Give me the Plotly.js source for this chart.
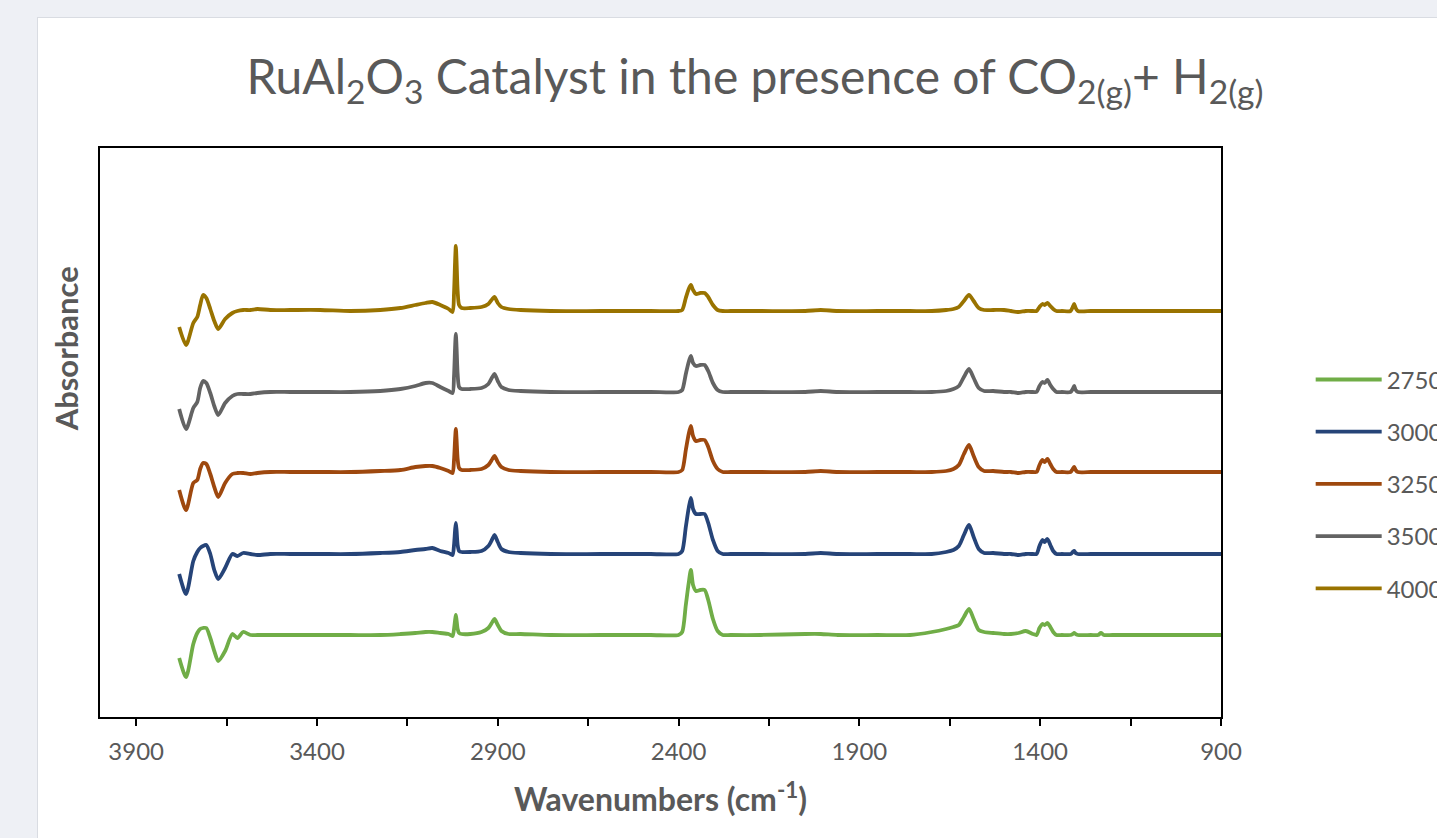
<!DOCTYPE html>
<html>
<head>
<meta charset="utf-8">
<script src="https://cdn.plot.ly/plotly-3.0.1.min.js"></script>
<style>
  html, body { margin: 0; padding: 0; background: #eef0f5; overflow: hidden; width: 1437px; height: 838px; }
  #card { position: absolute; left: 37px; top: 17px; width: 1500px; height: 840px; background: #ffffff; border: 1px solid #d9dce2; box-sizing: border-box; }
  #plot { position: absolute; left: 0; top: 0; width: 1500px; height: 821px; }
</style>
</head>
<body>
<div id="card"><div id="plot"></div></div>
<script>
// Wavenumbers (cm-1), shared by all spectra
const wavenumbers = [3781, 3762, 3742, 3731, 3723, 3715, 3706, 3695, 3684, 3673,
  3654, 3634, 3620, 3604, 3584, 3565, 3529, 3474, 3391, 3308,
  3225, 3169, 3128, 3100, 3081, 3059, 3036, 3025, 3021, 3018,
  3016, 3014, 3011, 3007, 3000, 2976, 2945, 2926, 2915, 2909,
  2900, 2890, 2870, 2837, 2754, 2616, 2477, 2400, 2390, 2380,
  2372, 2366, 2360, 2352, 2340, 2328, 2318, 2305, 2292, 2278,
  2256, 2173, 2050, 2007, 1960, 1850, 1760, 1700, 1660, 1640,
  1625, 1611, 1597, 1584, 1570, 1555, 1530, 1500, 1481, 1460,
  1440, 1420, 1410, 1402, 1394, 1388, 1380, 1372, 1364, 1355,
  1340, 1316, 1310, 1306, 1302, 1296, 1260, 1240, 1232, 1224,
  1200, 1100, 1000, 900];

// Series names (legend labels)
const seriesNames = ["2750", "3000", "3250", "3500", "4000"];
const seriesColors = ["#70AD47", "#264478", "#9E480E", "#636363", "#997300"];

// Absorbance (stacked, arbitrary units)
const abs2750 = [-23, -42, -9, 2, 6, 7, 7, -3, -16, -26,
  -16, 1, -3, 3, 0, 0, 0, 0, 0, 0,
  0, 1, 2, 3, 3, 2, 1, -1, 6, 15,
  20, 15, 6, 2, 1, 1, 3, 7, 13, 16,
  10, 4, 1, 1, 0, 0, 0, 0, 3, 30,
  52, 65, 50, 44, 45, 45, 35, 16, 4, 0,
  0, 0, 1, 1, 0, 0, 0, 3, 6, 8,
  10, 18, 26, 16, 5, 3, 2, 1, 1, 2,
  4, 1, 0, 7, 11, 10, 12, 8, 3, 0,
  0, 0, 1, 2, 1, 0, 0, 0, 2, 0,
  0, 0, 0, 0];

const abs3000 = [61, 41, 74, 83, 87, 89, 90, 81, 65, 56,
  67, 81, 79, 82, 81, 80, 81, 81, 81, 81,
  82, 83, 85, 86, 87, 84, 82, 80, 90, 105,
  112, 105, 90, 84, 83, 83, 84, 89, 96, 100,
  93, 86, 83, 82, 81, 81, 81, 81, 84, 108,
  127, 137, 126, 121, 121, 121, 112, 95, 84, 81,
  81, 81, 81, 82, 81, 81, 81, 81, 83, 85,
  89, 100, 110, 98, 86, 82, 82, 81, 81, 80,
  81, 81, 81, 89, 95, 93, 96, 90, 84, 81,
  81, 81, 83, 84, 82, 81, 81, 81, 81, 81,
  81, 81, 81, 81];

const abs3250 = [145, 125, 152, 155, 166, 172, 171, 161, 148, 138,
  152, 161, 162, 162, 161, 162, 163, 163, 163, 163,
  164, 165, 168, 169, 169, 167, 164, 162, 175, 196,
  206, 196, 176, 167, 165, 165, 166, 170, 176, 179,
  173, 168, 165, 164, 163, 163, 163, 163, 165, 185,
  201, 209, 199, 194, 195, 195, 188, 174, 166, 163,
  163, 163, 163, 164, 163, 163, 163, 163, 164, 166,
  170, 181, 190, 179, 168, 164, 164, 163, 163, 162,
  163, 163, 163, 170, 175, 173, 176, 171, 166, 163,
  163, 163, 166, 168, 165, 163, 163, 163, 163, 163,
  163, 163, 163, 163];

const abs3500 = [226, 206, 227, 233, 247, 254, 252, 242, 229, 220,
  232, 239, 241, 241, 241, 242, 243, 243, 243, 243,
  244, 246, 249, 252, 252, 248, 244, 242, 259, 288,
  301, 288, 261, 248, 246, 246, 247, 251, 258, 261,
  254, 248, 245, 244, 243, 243, 243, 243, 245, 261,
  273, 279, 272, 269, 270, 270, 264, 252, 245, 243,
  243, 243, 243, 244, 243, 243, 243, 243, 244, 246,
  249, 258, 266, 257, 247, 244, 244, 243, 243, 242,
  243, 243, 243, 249, 253, 252, 255, 250, 246, 243,
  243, 243, 246, 249, 245, 243, 243, 243, 243, 243,
  243, 243, 243, 243];

const abs4000 = [308, 290, 312, 318, 330, 340, 337, 326, 314, 306,
  316, 322, 324, 325, 325, 326, 325, 325, 325, 324,
  325, 327, 330, 332, 333, 330, 326, 323, 342, 374,
  389, 374, 344, 330, 327, 327, 328, 331, 336, 338,
  332, 328, 326, 325, 324, 324, 324, 324, 325, 337,
  346, 350, 345, 341, 342, 342, 338, 330, 325, 324,
  324, 324, 324, 325, 324, 324, 324, 324, 325, 326,
  328, 334, 340, 334, 327, 325, 325, 325, 324, 323,
  324, 324, 324, 328, 331, 330, 332, 329, 326, 324,
  324, 324, 328, 331, 327, 324, 324, 324, 324, 324,
  324, 324, 324, 324];

const seriesValues = [abs2750, abs3000, abs3250, abs3500, abs4000];

const traces = seriesValues.map((vals, i) => ({
  type: 'scatter',
  mode: 'lines',
  x: wavenumbers,
  y: vals,
  name: seriesNames[i],
  legendgroup: 'g' + i,
  line: { color: seriesColors[i], width: 3.8, shape: 'spline', smoothing: 0.7 },
  hoverinfo: 'x+y+name'
}));

const gray = '#595959';
const layout = {
  width: 1500,
  height: 821,
  paper_bgcolor: '#ffffff',
  plot_bgcolor: '#ffffff',
  margin: { l: 62, r: 317, t: 130, b: 122 },
  font: { family: 'Lato, "Open Sans", sans-serif', color: gray },
  title: {
    text: 'RuAl<sub>2</sub>O<sub>3</sub> Catalyst in the presence of CO<sub>2(g)</sub>+ H<sub>2(g)</sub>',
    font: { family: 'Lato, sans-serif', size: 48, color: gray },
    xref: 'container', x: 0.478, xanchor: 'center',
    yref: 'container', y: 0.928, yanchor: 'middle'
  },
  xaxis: {
    range: [4000, 900],
    tickmode: 'linear', tick0: 900, dtick: 500,
    ticks: 'outside', ticklen: 7, tickwidth: 2, tickcolor: '#000000',
    minor: { dtick: 250, tick0: 900, ticks: 'outside', ticklen: 7, tickwidth: 2, tickcolor: '#000000', showgrid: false },
    showline: true, linecolor: '#000000', linewidth: 2, mirror: true,
    showgrid: false, zeroline: false,
    tickfont: { family: 'Lato, sans-serif', size: 24, color: gray },
    ticklabelstandoff: 5,
    title: {
      text: 'Wavenumbers (cm<sup>-1</sup>)',
      font: { family: 'Lato, sans-serif', size: 32, color: gray, weight: 'bold' },
      standoff: 25
    }
  },
  yaxis: {
    range: [-82, 487],
    showticklabels: false, ticks: '',
    showline: true, linecolor: '#000000', linewidth: 2, mirror: true,
    showgrid: false, zeroline: false
  },
  showlegend: true,
  legend: {
    x: 1.08, xanchor: 'left', xref: 'paper',
    y: 0.632, yanchor: 'top',
    traceorder: 'grouped',
    tracegroupgap: 18,
    itemwidth: 66,
    font: { family: 'Lato, sans-serif', size: 24, color: gray },
    bgcolor: 'rgba(0,0,0,0)'
  },
  annotations: [{
    text: '<b>Absorbance</b>',
    xref: 'paper', yref: 'paper',
    x: -0.03, xanchor: 'center',
    y: (716 - 348) / 569, yanchor: 'middle',
    textangle: -90, showarrow: false,
    font: { family: 'Lato, sans-serif', size: 31, color: gray }
  }]
};

Plotly.newPlot('plot', traces, layout, { staticPlot: true, displayModeBar: false });
</script>
</body>
</html>
